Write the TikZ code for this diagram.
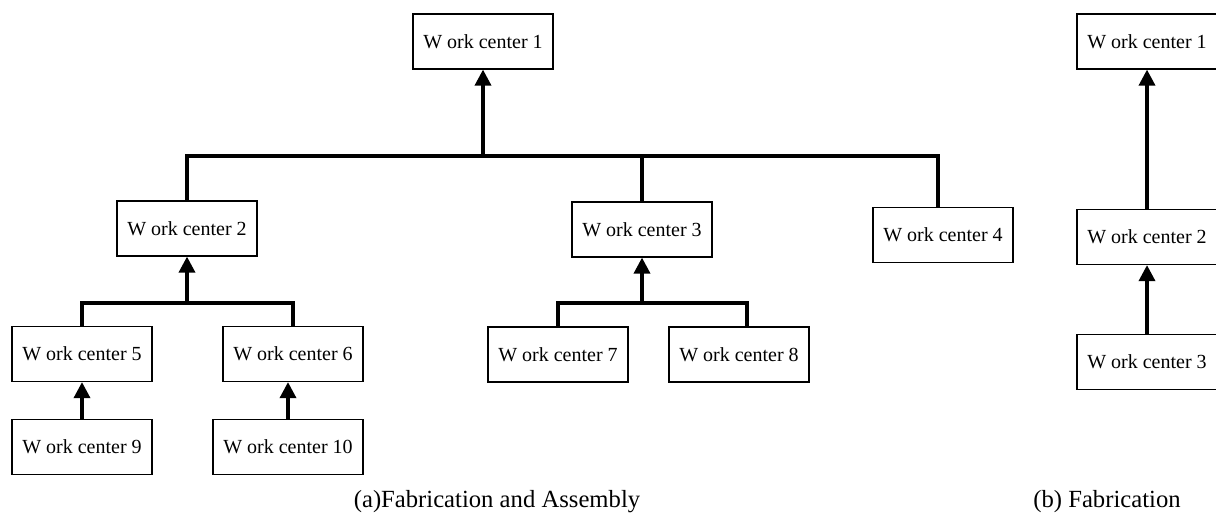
\documentclass[tikz,border=0pt]{standalone}
\usepackage{fontspec}
\setmainfont{Liberation Serif}
\usepackage{tikz}
\usetikzlibrary{arrows.meta}
\tikzstyle{station} = [rectangle, draw, line width=0.9pt, minimum width=105pt,
    minimum height=41.25pt, inner sep=0pt, font=\fontsize{15}{18}\selectfont]
\tikzstyle{link} = [line width=2.6pt]
\tikzstyle{caption} = [anchor=base, inner sep=0pt, font=\fontsize{18.5}{22}\selectfont]
\tikzset{>={Triangle[length=12pt,width=12pt]}}

\begin{document}
\begin{tikzpicture}[x=0.75pt,y=-0.75pt]
\useasboundingbox (0,0) rectangle (1216,519);
% (a) fabrication and assembly
\node[station] (a1) at (483,41.5) {W ork center 1};
\node[station] (a2) at (187,228.5) {W ork center 2};
\node[station] (a3) at (642,229.5) {W ork center 3};
\node[station] (a4) at (943,235) {W ork center 4};
\node[station] (a5) at (82,354) {W ork center 5};
\node[station] (a6) at (293,354) {W ork center 6};
\node[station] (a7) at (558,354.5) {W ork center 7};
\node[station] (a8) at (739,354.5) {W ork center 8};
\node[station] (a9) at (82,447) {W ork center 9};
\node[station,minimum width=112.5pt] (a10) at (288,447) {W ork center 10};
\coordinate (bus) at (483,156);   %top junction
\coordinate (j2) at (187,303);
\coordinate (j3) at (642,303);
\draw[link] (a2.north) |- (bus) -| ([xshift=-3.75pt]a4.north);
\draw[link] (a3.north) -- (a3.north |- bus);
\draw[link,->] (bus) -- (a1.south);
\draw[link] (a5.north) |- (j2) -| (a6.north);
\draw[link,->] (j2) -- (a2.south);
\draw[link] (a7.north) |- (j3) -| ([xshift=6pt]a8.north);
\draw[link,->] (j3) -- (a3.south);
\draw[link,->] (a9.north) -- (a9.north |- a5.south);
\draw[link,->] (a10.north) -- (a10.north |- a6.south);
% (b) fabrication
\node[station] (b1) at (1147,41.5) {W ork center 1};
\node[station] (b2) at (1147,237) {W ork center 2};
\node[station] (b3) at (1147,362) {W ork center 3};
\draw[link,->] (b2.north) -- (b1.south);
\draw[link,->] (b3.north) -- (b2.south);
% captions
\node[caption] (capa) at (497,507) {(a)Fabrication and Assembly};
\node[caption] (capb) at (1107,507) {(b) Fabrication};
\end{tikzpicture}
\end{document}
